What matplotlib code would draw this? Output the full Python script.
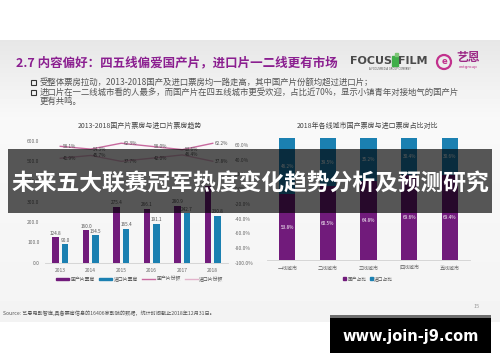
import numpy as np
import matplotlib.pyplot as plt
from matplotlib.patches import Rectangle, Patch
from matplotlib.lines import Line2D

plt.rcParams['font.family'] = ['Noto Sans CJK SC', 'DejaVu Sans']

# ---- data ----
years = ['2013', '2014', '2015', '2016', '2017', '2018']
domestic = [124.8, 160.0, 275.4, 266.1, 280.9, 378.9]      # 国产片票房
imported = [90.0, 134.5, 165.4, 191.1, 242.7, 230.8]       # 进口片票房
dom_share = [58.1, 54.3, 62.3, 58.0, 53.6, 62.2]           # 国产片份额 %
imp_share = [41.9, 45.7, 37.7, 42.0, 46.4, 37.8]           # 进口片份额 %

cities = ['一线城市', '二线城市', '三线城市', '四线城市', '五线城市']
city_dom = [53.8, 60.5, 64.8, 69.6, 69.4]                  # 国产占比 %
city_imp = [46.2, 39.5, 35.2, 30.4, 30.6]                  # 进口占比 %

left_ticks = [0, 100, 200, 300, 400, 500, 600]
right_ticks = [-100, -80, -60, -40, -20, 0, 20, 40, 60]

purple = '#711b7b'
blue = '#1b80b1'
pink = '#c86a9f'
light_pink = '#e2b3cb'
grey_txt = '#555555'

W, H = 500, 362
fig = plt.figure(figsize=(W / 100, H / 100), dpi=100)


def box(x0, y0, x1, y1):
    # pixel box (origin top-left) -> figure fraction
    return [x0 / W, 1 - y1 / H, (x1 - x0) / W, (y1 - y0) / H]


# ---- slide background ----
bg = fig.add_axes([0, 0, 1, 1], zorder=-5)
grad = np.concatenate([np.linspace(0.905, 0.975, 80), np.linspace(0.975, 0.955, 202)])
bg.imshow(grad[:, None], cmap='gray', vmin=0, vmax=1, extent=[0, W, 322, 40], aspect='auto')
bg.set_xlim(0, W)
bg.set_ylim(H, 0)
bg.axis('off')

bg.text(16, 63, '2.7 内容偏好：四五线偏爱国产片，进口片一二线更有市场', fontsize=9,
        fontweight='bold', color='#8b1f90', va='center')
for yy, s in [(82, '受整体票房拉动，2013-2018国产及进口票房均一路走高，其中国产片份额均超过进口片；'),
              (92, '进口片在一二线城市看的人最多，而国产片在四五线城市更受欢迎，占比近70%，显示小镇青年对接地气的国产片')]:
    bg.add_patch(Rectangle((30.5, yy - 2.5), 5, 5, fill=False, ec='#333333', lw=0.8))
    bg.text(40, yy, s, fontsize=6.05, color=grey_txt, va='center')
bg.text(40, 101, '更有共鸣。', fontsize=6.05, color=grey_txt, va='center')

# logos
bg.text(350, 61, 'FOCUS', fontsize=8, fontweight='bold', color='#4a4a4a', va='center',
        family='DejaVu Sans')
bg.add_patch(Rectangle((392, 56), 6, 10, color='#3fae49'))
bg.add_patch(Rectangle((395, 53), 3, 3, color='#7cc576'))
bg.text(398, 61, 'FILM', fontsize=8, fontweight='bold', color='#4a4a4a', va='center',
        family='DejaVu Sans')
bg.text(390, 69, 'A FOCUSMEDIA GROUP COMPANY', fontsize=1.8, color='#555555', ha='center',
        va='center', family='DejaVu Sans')
bg.add_patch(plt.Circle((444, 62), 7, fill=False, ec='#c2318d', lw=1.6))
bg.text(444, 62, 'e', fontsize=6, fontweight='bold', color='#c2318d', ha='center', va='center',
        family='DejaVu Sans')
bg.text(468, 57, '艺恩', fontsize=8.5, fontweight='bold', color='#9c2a86', ha='center', va='center')
bg.text(468, 67, 'entgroup', fontsize=3, color='#c2318d', ha='center', va='center',
        family='DejaVu Sans')

bg.text(140, 126, '2013-2018国产片票房与进口片票房趋势', fontsize=5, color='#444444',
        ha='center', va='center')
bg.text(368, 126, '2018年各线城市国产票房与进口票房占比对比', fontsize=5, color='#444444',
        ha='center', va='center')
bg.text(3, 313, 'Source: 艺恩电影智库,具备票房信息的16406家影院的数据，统计时间截止2018年12月31日。',
        fontsize=3.7, color='#555555', va='center')
bg.text(477, 307, '15', fontsize=4, color='#999999', ha='center', va='center')

# ---- left chart: box office bars + share lines ----
ax1 = fig.add_axes(box(45, 140.8, 228, 262.7))
ax1.set_facecolor('none')
x = np.arange(len(years))
bw = 0.22
bars_d = ax1.bar(x - 0.155, domestic, bw, color=purple)
bars_i = ax1.bar(x + 0.155, imported, bw, color=blue)
for bars, vals in [(bars_d, domestic), (bars_i, imported)]:
    for r, v in zip(bars, vals):
        ax1.annotate(f'{v:.1f}', (r.get_x() + r.get_width() / 2, v), xytext=(0, 1.2),
                     textcoords='offset points', ha='center', va='bottom', fontsize=3.4,
                     color=grey_txt)
ax1.set_xlim(-0.5, len(years) - 0.5)
ax1.set_ylim(0, 600)
ax1.set_yticks(left_ticks)
ax1.set_yticklabels([f'{t:.1f}' for t in left_ticks])
ax1.set_xticks(x)
ax1.set_xticklabels(years)
ax1.tick_params(length=0, labelsize=3.5, labelcolor='#666666', pad=4)
for s in ['top', 'right', 'left']:
    ax1.spines[s].set_visible(False)
ax1.spines['bottom'].set_color('#d0d0d0')
ax1.spines['bottom'].set_linewidth(0.6)

ax2 = ax1.twinx()
ax2.set_facecolor('none')
ax2.plot(x, dom_share, color=pink, lw=1.0)
ax2.plot(x, imp_share, color=light_pink, lw=1.0)
for vals in [dom_share, imp_share]:
    for xi, v in zip(x, vals):
        ax2.annotate(f'{v:.1f}%', (xi, v), xytext=(6.5, 0), textcoords='offset points',
                     ha='center', va='center', fontsize=3.4, color=grey_txt)
ax2.set_ylim(-100, 65.6)
ax2.set_yticks(right_ticks)
ax2.set_yticklabels([f'{t:.1f}%' for t in right_ticks])
ax2.tick_params(length=0, labelsize=3.5, labelcolor='#666666', pad=5)
for s in ax2.spines.values():
    s.set_visible(False)

handles = [Patch(color=purple), Patch(color=blue),
           Line2D([], [], color=pink, lw=1), Line2D([], [], color=light_pink, lw=1)]
fig.legend(handles, ['国产片票房', '进口片票房', '国产片份额', '进口片份额'], ncol=4,
           loc='center', bbox_to_anchor=(140 / W, 1 - 279 / H), frameon=False,
           fontsize=3.5, handlelength=2.6, handleheight=0.45, handletextpad=0.3,
           columnspacing=0.9, labelcolor=grey_txt)

# ---- right chart: stacked share by city tier ----
ax3 = fig.add_axes(box(267, 138, 470, 260))
ax3.set_facecolor('none')
xc = np.arange(len(cities))
cb_d = ax3.bar(xc, city_dom, 0.4, color=purple)
cb_i = ax3.bar(xc, city_imp, 0.4, bottom=city_dom, color=blue)
for xi, d, i in zip(xc, city_dom, city_imp):
    ax3.text(xi, d / 2, f'{d:.1f}%', ha='center', va='center', fontsize=3.4, color='white')
    ax3.text(xi, d + i / 2, f'{i:.1f}%', ha='center', va='center', fontsize=3.4, color='white')
ax3.set_xlim(-0.5, len(cities) - 0.5)
ax3.set_ylim(0, 100)
ax3.set_yticks([])
ax3.set_xticks(xc)
ax3.set_xticklabels(cities)
ax3.tick_params(length=0, labelsize=3.6, labelcolor='#666666', pad=4)
for s in ['top', 'right', 'left']:
    ax3.spines[s].set_visible(False)
ax3.spines['bottom'].set_color('#d0d0d0')
ax3.spines['bottom'].set_linewidth(0.6)
fig.legend([Patch(color=purple), Patch(color=blue)], ['国产占比', '进口占比'], ncol=2,
           loc='center', bbox_to_anchor=(368 / W, 1 - 279 / H), frameon=False,
           fontsize=3.4, handlelength=0.6, handleheight=0.6, handletextpad=0.2,
           columnspacing=0.8, labelcolor=grey_txt)

# ---- overlays: banner and watermark ----
ov = fig.add_axes([0, 0, 1, 1], zorder=20)
ov.set_xlim(0, W)
ov.set_ylim(H, 0)
ov.axis('off')
ov.add_patch(Rectangle((8, 149), 484, 64, color='black', alpha=0.65, lw=0))
ov.text(250, 184, '未来五大联赛冠军热度变化趋势分析及预测研究', fontsize=16.4,
        fontweight='bold', color='white', ha='center', va='center')
ov.add_patch(Rectangle((330, 315), 161, 3, color='#6e6e6e', lw=0))
ov.add_patch(Rectangle((330, 318), 161, 35, color='black', lw=0))
ov.text(410.5, 336, 'www.join-j9.com', fontsize=10.5, fontweight='bold', color='white',
        ha='center', va='center', family='DejaVu Sans')

fig.savefig('out.png', dpi=100)
